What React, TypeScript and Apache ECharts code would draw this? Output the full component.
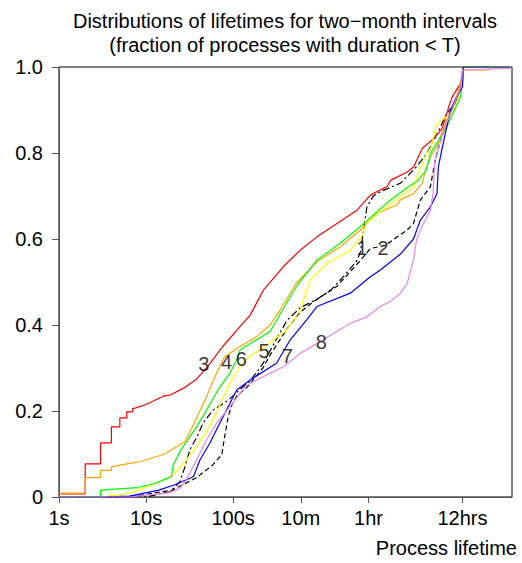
import React, { useEffect, useRef } from 'react';
import * as echarts from 'echarts';

const FONT = "'Liberation Sans', Arial, Helvetica, sans-serif";

// x axis: process lifetime in seconds (log scale)
const X_MIN = 1;
const X_MAX = 160000;
const X_TICK_VALUES = [1, 10, 100, 600, 3600, 43200];
const X_TICK_LABELS = ['1s', '10s', '100s', '10m', '1hr', '12hrs'];
const Y_TICKS = [0, 0.2, 0.4, 0.6, 0.8, 1.0];

const SERIES_NAMES = ['1', '2', '3', '4', '5', '6', '7', '8'];
const SERIES_COLORS = ['#000000', '#000000', '#ff0000', '#ffa500', '#ffff00', '#00ff00', '#0000ff', '#ee82ee'];

// [seconds, fraction of processes with duration < T]
const curve1 = [
  [1, 0], [11, 0.002], [18.8, 0.012], [24.4, 0.035], [28, 0.07], [31.9, 0.11], [38.5, 0.14], [45, 0.171],
  [58.6, 0.202], [89, 0.226], [120, 0.25], [157, 0.27], [220, 0.31], [266, 0.34], [413, 0.41], [590, 0.44],
  [920, 0.46], [1306, 0.48], [2000, 0.52], [2650, 0.55], [2900, 0.57], [3150, 0.62], [3450, 0.675],
  [4100, 0.7], [4923, 0.71], [8370, 0.73], [12800, 0.768], [17000, 0.8], [24200, 0.861], [28500, 0.892],
  [36000, 0.916], [43200, 0.97], [44000, 1], [160000, 1],
];
const curve2 = [
  [1, 0], [6.5, 0], [20, 0.016], [38, 0.045], [58, 0.074], [74, 0.098], [80, 0.14], [88, 0.187], [97, 0.215],
  [110, 0.235], [144, 0.255], [220, 0.3], [266, 0.33], [413, 0.39], [590, 0.43], [920, 0.46], [1560, 0.49],
  [2900, 0.55], [3776, 0.578], [5600, 0.585], [7700, 0.605], [10000, 0.621], [11800, 0.636], [14200, 0.691],
  [18500, 0.722], [21000, 0.784], [24200, 0.83], [28500, 0.869], [34000, 0.908], [43200, 0.962], [44000, 1],
  [160000, 1],
];
const curve3 = [
  [1, 0.007], [2, 0.007], [2, 0.077], [3, 0.077], [3, 0.126], [4, 0.126], [4, 0.163], [5, 0.163], [5, 0.184],
  [6, 0.184], [6, 0.198], [7, 0.198], [7, 0.205], [10, 0.215], [16, 0.235], [19, 0.237], [28, 0.255],
  [38, 0.274], [51, 0.303], [76, 0.35], [120, 0.396], [157, 0.423], [223, 0.481], [379, 0.536], [590, 0.574],
  [919, 0.605], [1563, 0.636], [2654, 0.667], [3777, 0.702], [5890, 0.722], [6500, 0.737], [10000, 0.756],
  [11900, 0.768], [14900, 0.811], [20300, 0.834], [25300, 0.858], [30100, 0.908], [33000, 0.931],
  [41100, 0.962], [43200, 0.993], [44000, 1], [160000, 1],
];
const curve4 = [
  [1, 0.009], [2, 0.009], [2, 0.045], [3, 0.045], [3, 0.062], [4, 0.062], [4, 0.07], [6.5, 0.078], [8.5, 0.082],
  [16.4, 0.1], [28, 0.129], [34, 0.163], [49.5, 0.233], [64.5, 0.288], [80, 0.326], [120, 0.35], [186, 0.373],
  [266, 0.4], [347, 0.435], [530, 0.497], [920, 0.547], [1700, 0.582], [2900, 0.621], [4500, 0.66],
  [7600, 0.679], [8370, 0.691], [11900, 0.706], [14900, 0.73], [16300, 0.76], [18500, 0.791], [22000, 0.815],
  [25300, 0.85], [28000, 0.873], [33500, 0.908], [38000, 0.939], [43200, 0.977], [44000, 0.993],
  [88000, 0.993], [89000, 1], [160000, 1],
];
const curve5 = [
  [1, 0], [3, 0], [6.5, 0.009], [11.5, 0.028], [19.5, 0.047], [25, 0.07], [38, 0.117], [49.5, 0.152],
  [64.5, 0.195], [76, 0.23], [92, 0.264], [120, 0.303], [150, 0.326], [204, 0.342], [266, 0.36], [413, 0.388],
  [590, 0.435], [770, 0.505], [1200, 0.543], [2221, 0.574], [3050, 0.609], [3400, 0.636], [4800, 0.662],
  [10000, 0.71], [12000, 0.722], [13200, 0.749], [16100, 0.791], [19000, 0.815], [21600, 0.865],
  [26600, 0.881], [32000, 0.888], [38000, 0.923], [43200, 0.962], [44000, 1], [160000, 1],
];
const curve6 = [
  [1, 0.001], [3, 0.001], [3, 0.016], [8, 0.022], [13, 0.032], [16.4, 0.041], [19.5, 0.047], [20.5, 0.074],
  [25, 0.109], [38, 0.163], [49.5, 0.202], [67, 0.249], [92, 0.288], [110, 0.319], [120, 0.342], [170, 0.361],
  [266, 0.385], [370, 0.435], [530, 0.489], [920, 0.551], [1700, 0.59], [2900, 0.629], [4900, 0.67],
  [6400, 0.69], [10000, 0.72], [13200, 0.735], [16600, 0.76], [18500, 0.799], [23000, 0.83], [28500, 0.861],
  [35000, 0.9], [41100, 0.931], [43200, 0.97], [44000, 1], [160000, 1],
];
const curve7 = [
  [1, 0], [5, 0], [6.5, 0.002], [14, 0.016], [21, 0.028], [35, 0.047], [41.6, 0.086], [54, 0.125], [70, 0.171],
  [92, 0.218], [110, 0.249], [157, 0.272], [315, 0.311], [452, 0.365], [700, 0.412], [920, 0.443],
  [2221, 0.474], [3776, 0.512], [4923, 0.528], [8370, 0.565], [11800, 0.6], [14200, 0.644], [18500, 0.675],
  [22000, 0.706], [22800, 0.768], [25000, 0.807], [28500, 0.861], [31500, 0.9], [35500, 0.923],
  [43200, 0.954], [44000, 1], [160000, 1],
];
const curve8 = [
  [1, 0], [6.5, 0], [18.8, 0.01], [24.4, 0.02], [29, 0.04], [38, 0.086], [49.5, 0.133], [64.5, 0.171],
  [92, 0.21], [120, 0.241], [144, 0.26], [186, 0.272], [266, 0.288], [380, 0.303], [590, 0.334], [920, 0.357],
  [1430, 0.381], [2221, 0.404], [3450, 0.419], [4923, 0.443], [6418, 0.455], [8370, 0.474], [10000, 0.497],
  [11800, 0.551], [12800, 0.598], [14800, 0.629], [18500, 0.667], [19800, 0.706], [20800, 0.784],
  [22700, 0.807], [26200, 0.853], [31500, 0.892], [36000, 0.923], [41600, 0.954], [43200, 0.993],
  [160000, 0.997],
];
const CURVES = [curve1, curve2, curve3, curve4, curve5, curve6, curve7, curve8];

// curve number labels: [text, seconds, fraction]
const CURVE_LABELS: [string, number, number][] = [
  ['1', 3030, 0.578], ['2', 5290, 0.578], ['3', 46.2, 0.309], ['4', 84.4, 0.313],
  ['6', 124, 0.32], ['5', 227, 0.34], ['7', 421, 0.329], ['8', 1030, 0.361],
];

const TITLE_LINES = [
  'Distributions of lifetimes for two\u2212month intervals',
  '(fraction of processes with duration < T)',
];
const X_NAME = 'Process lifetime';

const DASHES: any[] = [[7, 3, 2, 3], [5, 3], 'solid', 'solid', 'solid', 'solid', 'solid', 'solid'];

export default function App() {
  const ref = useRef<HTMLDivElement>(null);
  useEffect(() => {
    if (!ref.current) return;
    const chart = echarts.init(ref.current, null, { renderer: 'svg' });
    const xLabel = (val: number) => {
      const i = X_TICK_VALUES.findIndex((v) => Math.abs(Math.log10(v) - Math.log10(val)) < 0.01);
      return i >= 0 ? X_TICK_LABELS[i] : '';
    };
    const lineSeries = CURVES.map((c, i) => ({
      type: 'line',
      name: SERIES_NAMES[i],
      data: c,
      showSymbol: false,
      symbol: 'none',
      z: 2 + i,
      lineStyle: { color: SERIES_COLORS[i], width: 1.2, type: DASHES[i] },
    }));
    chart.setOption({
      animation: false,
      backgroundColor: '#ffffff',
      textStyle: { fontFamily: FONT },
      grid: {
        left: 59, right: 10, top: 67, bottom: 66,
        show: true, borderColor: '#000', borderWidth: 1, backgroundColor: 'transparent',
      },
      xAxis: {
        type: 'log',
        logBase: 10,
        min: X_MIN,
        max: X_MAX,
        splitLine: { show: false },
        minorTick: { show: false },
        axisLine: { show: true, lineStyle: { color: '#555', width: 1 } },
        axisTick: { show: true, length: 6, lineStyle: { color: '#555' }, customValues: X_TICK_VALUES },
        axisLabel: {
          show: true, customValues: X_TICK_VALUES, formatter: xLabel,
          fontSize: 20, color: '#000', fontFamily: FONT, margin: 11, hideOverlap: false,
        },
      },
      yAxis: {
        type: 'value',
        min: 0,
        max: 1,
        interval: 0.2,
        splitLine: { show: false },
        axisLine: { show: true, lineStyle: { color: '#555', width: 1 } },
        axisTick: { show: true, length: 7, lineStyle: { color: '#555' } },
        axisLabel: {
          fontSize: 20, color: '#000', fontFamily: FONT, margin: 16,
          formatter: (v: number) => (Y_TICKS.includes(v) && v === 0 ? '0' : v.toFixed(1)),
        },
      },
      series: [
        ...lineSeries,
        {
          type: 'scatter',
          symbolSize: 1,
          z: 20,
          itemStyle: { color: 'rgba(0,0,0,0)' },
          data: CURVE_LABELS.map(([n, t, v]) => ({ name: n, value: [t, v] })),
          label: {
            show: true, position: 'inside', formatter: '{b}',
            fontSize: 20, color: '#000', fontFamily: FONT,
          },
        },
      ],
      graphic: [
        {
          type: 'text', x: 285, y: 21,
          style: { text: TITLE_LINES[0], fontSize: 20, fontFamily: FONT, fill: '#000', align: 'center', verticalAlign: 'middle' },
        },
        {
          type: 'text', x: 285, y: 45,
          style: { text: TITLE_LINES[1], fontSize: 20, fontFamily: FONT, fill: '#000', align: 'center', verticalAlign: 'middle' },
        },
        {
          type: 'text', x: 517, y: 548,
          style: { text: X_NAME, fontSize: 20, fontFamily: FONT, fill: '#000', align: 'right', verticalAlign: 'middle' },
        },
      ],
    });
    return () => chart.dispose();
  }, []);
  return <div ref={ref} style={{ position: 'fixed', left: 0, top: 0, width: 522, height: 563 }} />;
}
